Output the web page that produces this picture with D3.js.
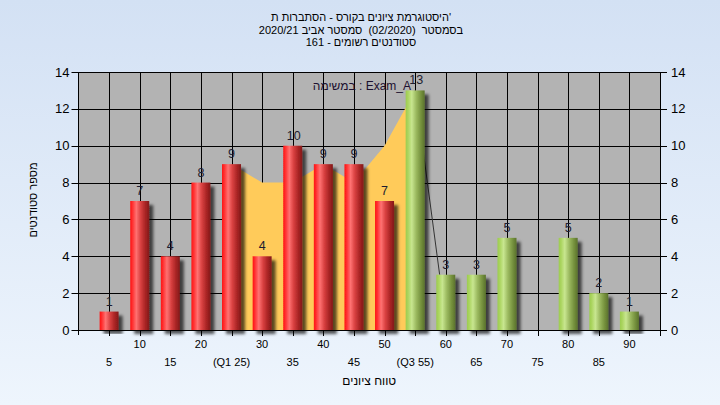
<!DOCTYPE html>
<html><head><meta charset="utf-8">
<script src="https://cdn.jsdelivr.net/npm/d3@7/dist/d3.min.js"></script>
<style>
html,body{margin:0;padding:0;overflow:hidden;}
svg{display:block;font-family:"Liberation Sans",Arial,sans-serif;}
.pre{white-space:pre;}
</style></head>
<body>
<svg id="c" width="720" height="405"></svg>
<script>
// ---- data ----
const categories = [5,10,15,20,25,30,35,40,45,50,55,60,65,70,75,80,85,90];
const counts     = [1,7,4,8,9,4,10,9,9,7,13,3,3,5,0,5,2,1];
const passFrom = 55;
const rangeAreaX = [25,30,35,40,45,50,55];
const rangeAreaY = [9,8,8,9,8,10,13];
const dropLineX = [55,59];
const dropLineY = [13,3];
const yTicks = [0,2,4,6,8,10,12,14];
const xUpperVals = [10,20,30,40,50,60,70,80,90];
const xUpperLabels = ["10","20","30","40","50","60","70","80","90"];
const xLowerVals = [5,15,25,35,45,55,65,75,85];
const xLowerLabels = ["5","15","(Q1 25)","35","45","(Q3 55)","65","75","85"];
const titleLines = ["היסטוגרמת ציונים בקורס - הסתברות ת'","בסמסטר  (02/2020)  סמסטר אביב 2020/21","סטודנטים רשומים - 161"];
const legendText = "במשימה : Exam_A";
const xTitle = "טווח ציונים";
const yTitle = "מספר סטודנטים";

// ---- layout ----
const svg = d3.select("#c");
const L = 78.5, R = 660, T = 72, B = 330;
const x = d3.scaleLinear().domain([0,95]).range([L,R]);
const y = d3.scaleLinear().domain([0,14]).range([B,T]);
const barW = 19;

const defs = svg.append("defs");
const bg = defs.append("linearGradient").attr("id","bg").attr("x1",0).attr("y1",0).attr("x2",0).attr("y2",1);
bg.append("stop").attr("offset","0%").attr("stop-color","#d3e1f4");
bg.append("stop").attr("offset","100%").attr("stop-color","#eef5fd");
function cyl(id, stops){
  const g = defs.append("linearGradient").attr("id",id).attr("x1",0).attr("y1",0).attr("x2",1).attr("y2",0);
  stops.forEach(s=>g.append("stop").attr("offset",s[0]).attr("stop-color",s[1]));
}
cyl("red",[["0%","#ff1212"],["12%","#ff3030"],["32%","#ff7272"],["55%","#d84040"],["80%","#a82424"],["100%","#821a1a"]]);
cyl("green",[["0%","#9ccc50"],["12%","#aad45e"],["32%","#c8e690"],["55%","#9cba60"],["80%","#76923e"],["100%","#5a722c"]]);
const f = defs.append("filter").attr("id","sh").attr("x","-20%").attr("y","-10%").attr("width","160%").attr("height","130%");
f.append("feDropShadow").attr("dx",4).attr("dy",4).attr("stdDeviation",1.8).attr("flood-color","#000").attr("flood-opacity",0.65);

svg.append("rect").attr("width",720).attr("height",405).attr("fill","url(#bg)");

// plot area
svg.append("rect").attr("x",L).attr("y",T).attr("width",R-L).attr("height",B-T).attr("fill","#b3b3b3");

// grid
svg.append("g").selectAll("line").data(yTicks).join("line")
  .attr("x1",L).attr("x2",R).attr("y1",d=>Math.round(y(d))+0.5).attr("y2",d=>Math.round(y(d))+0.5)
  .attr("stroke","#000").attr("stroke-width",1);
svg.append("g").selectAll("line").data(categories).join("line")
  .attr("x1",d=>Math.round(x(d))+0.5).attr("x2",d=>Math.round(x(d))+0.5).attr("y1",T).attr("y2",B)
  .attr("stroke","#000").attr("stroke-width",1);

// Q1-Q3 area
const areaPts = rangeAreaX.map((v,i)=>[v,rangeAreaY[i]]);
svg.append("path").datum(areaPts)
  .attr("d", d3.area().x(d=>x(d[0])).y0(y(0)).y1(d=>y(d[1])))
  .attr("fill","#ffcb5a");

// drop line
const dropPts = dropLineX.map((v,i)=>[v,dropLineY[i]]);
svg.append("path").datum(dropPts)
  .attr("d", d3.line().x(d=>x(d[0])).y(d=>y(d[1])))
  .attr("fill","none").attr("stroke","#333").attr("stroke-width",1);

// bars
const data = categories.map((c,i)=>({c, v:counts[i]})).filter(d=>d.v>0);
svg.append("g").selectAll("rect").data(data).join("rect")
  .attr("x",d=>x(d.c)-barW/2).attr("width",barW)
  .attr("y",d=>y(d.v)).attr("height",d=>y(0)-y(d.v))
  .attr("fill",d=>d.c>=passFrom?"url(#green)":"url(#red)")
  .attr("filter","url(#sh)");

// axes lines
const ax = svg.append("g").attr("stroke","#000").attr("stroke-width",1);
ax.append("line").attr("x1",L).attr("x2",L).attr("y1",T).attr("y2",B+5);
ax.append("line").attr("x1",R+0.5).attr("x2",R+0.5).attr("y1",T).attr("y2",B+5);
ax.append("line").attr("x1",L).attr("x2",R).attr("y1",B+0.5).attr("y2",B+0.5);
ax.append("line").attr("x1",L).attr("x2",R).attr("y1",T+0.5).attr("y2",T+0.5);
ax.selectAll(".tl").data(yTicks).join("line").attr("class","tl")
  .attr("x1",L-7).attr("x2",L).attr("y1",d=>Math.round(y(d))+0.5).attr("y2",d=>Math.round(y(d))+0.5);
ax.selectAll(".tr").data(yTicks).join("line").attr("class","tr")
  .attr("x1",R).attr("x2",R+7).attr("y1",d=>Math.round(y(d))+0.5).attr("y2",d=>Math.round(y(d))+0.5);
ax.selectAll(".tb").data(categories.concat([95])).join("line").attr("class","tb")
  .attr("x1",d=>Math.round(x(d))+0.5).attr("x2",d=>Math.round(x(d))+0.5).attr("y1",B).attr("y2",B+6);

// y tick labels
svg.append("g").selectAll("text").data(yTicks).join("text")
  .attr("x",L-9).attr("y",d=>y(d)+4.5).attr("text-anchor","end")
  .attr("font-size",13).attr("fill","#000").text(d=>d);
svg.append("g").selectAll("text").data(yTicks).join("text")
  .attr("x",R+11).attr("y",d=>y(d)+4.5).attr("text-anchor","start")
  .attr("font-size",13).attr("fill","#000").text(d=>d);

// x tick labels
svg.append("g").selectAll("text").data(xUpperVals).join("text")
  .attr("x",d=>x(d)).attr("y",348).attr("text-anchor","middle")
  .attr("font-size",11).attr("fill","#000").text((d,i)=>xUpperLabels[i]);
svg.append("g").selectAll("text").data(xLowerVals).join("text")
  .attr("x",d=>x(d)).attr("y",366).attr("text-anchor","middle")
  .attr("font-size",11).attr("fill","#000").text((d,i)=>xLowerLabels[i]);

// value labels
svg.append("g").selectAll("text").data(data).join("text")
  .attr("x",d=>x(d.c)+(d.v>=10?1:0)).attr("y",d=>y(d.v)-6).attr("text-anchor","middle")
  .attr("font-size",12.5).attr("fill","#1c1c30").text(d=>d.v);

// legend
svg.append("text").attr("x",411).attr("y",90).attr("text-anchor","end")
  .attr("font-size",12).attr("fill","#1c1030").text(legendText);

// titles
svg.append("g").selectAll("text").data(titleLines).join("text")
  .attr("class","pre")
  .attr("x",361).attr("y",(d,i)=>21+i*12.7).attr("text-anchor","middle")
  .attr("font-size",11).attr("fill","#000").text(d=>d);
svg.append("text").attr("x",(L+R)/2).attr("y",385).attr("text-anchor","middle")
  .attr("font-size",12).attr("fill","#000").text(xTitle);
svg.append("text").attr("transform","translate(37,200) rotate(-90)").attr("text-anchor","middle")
  .attr("font-size",11).attr("fill","#000").text(yTitle);
</script>
</body></html>
